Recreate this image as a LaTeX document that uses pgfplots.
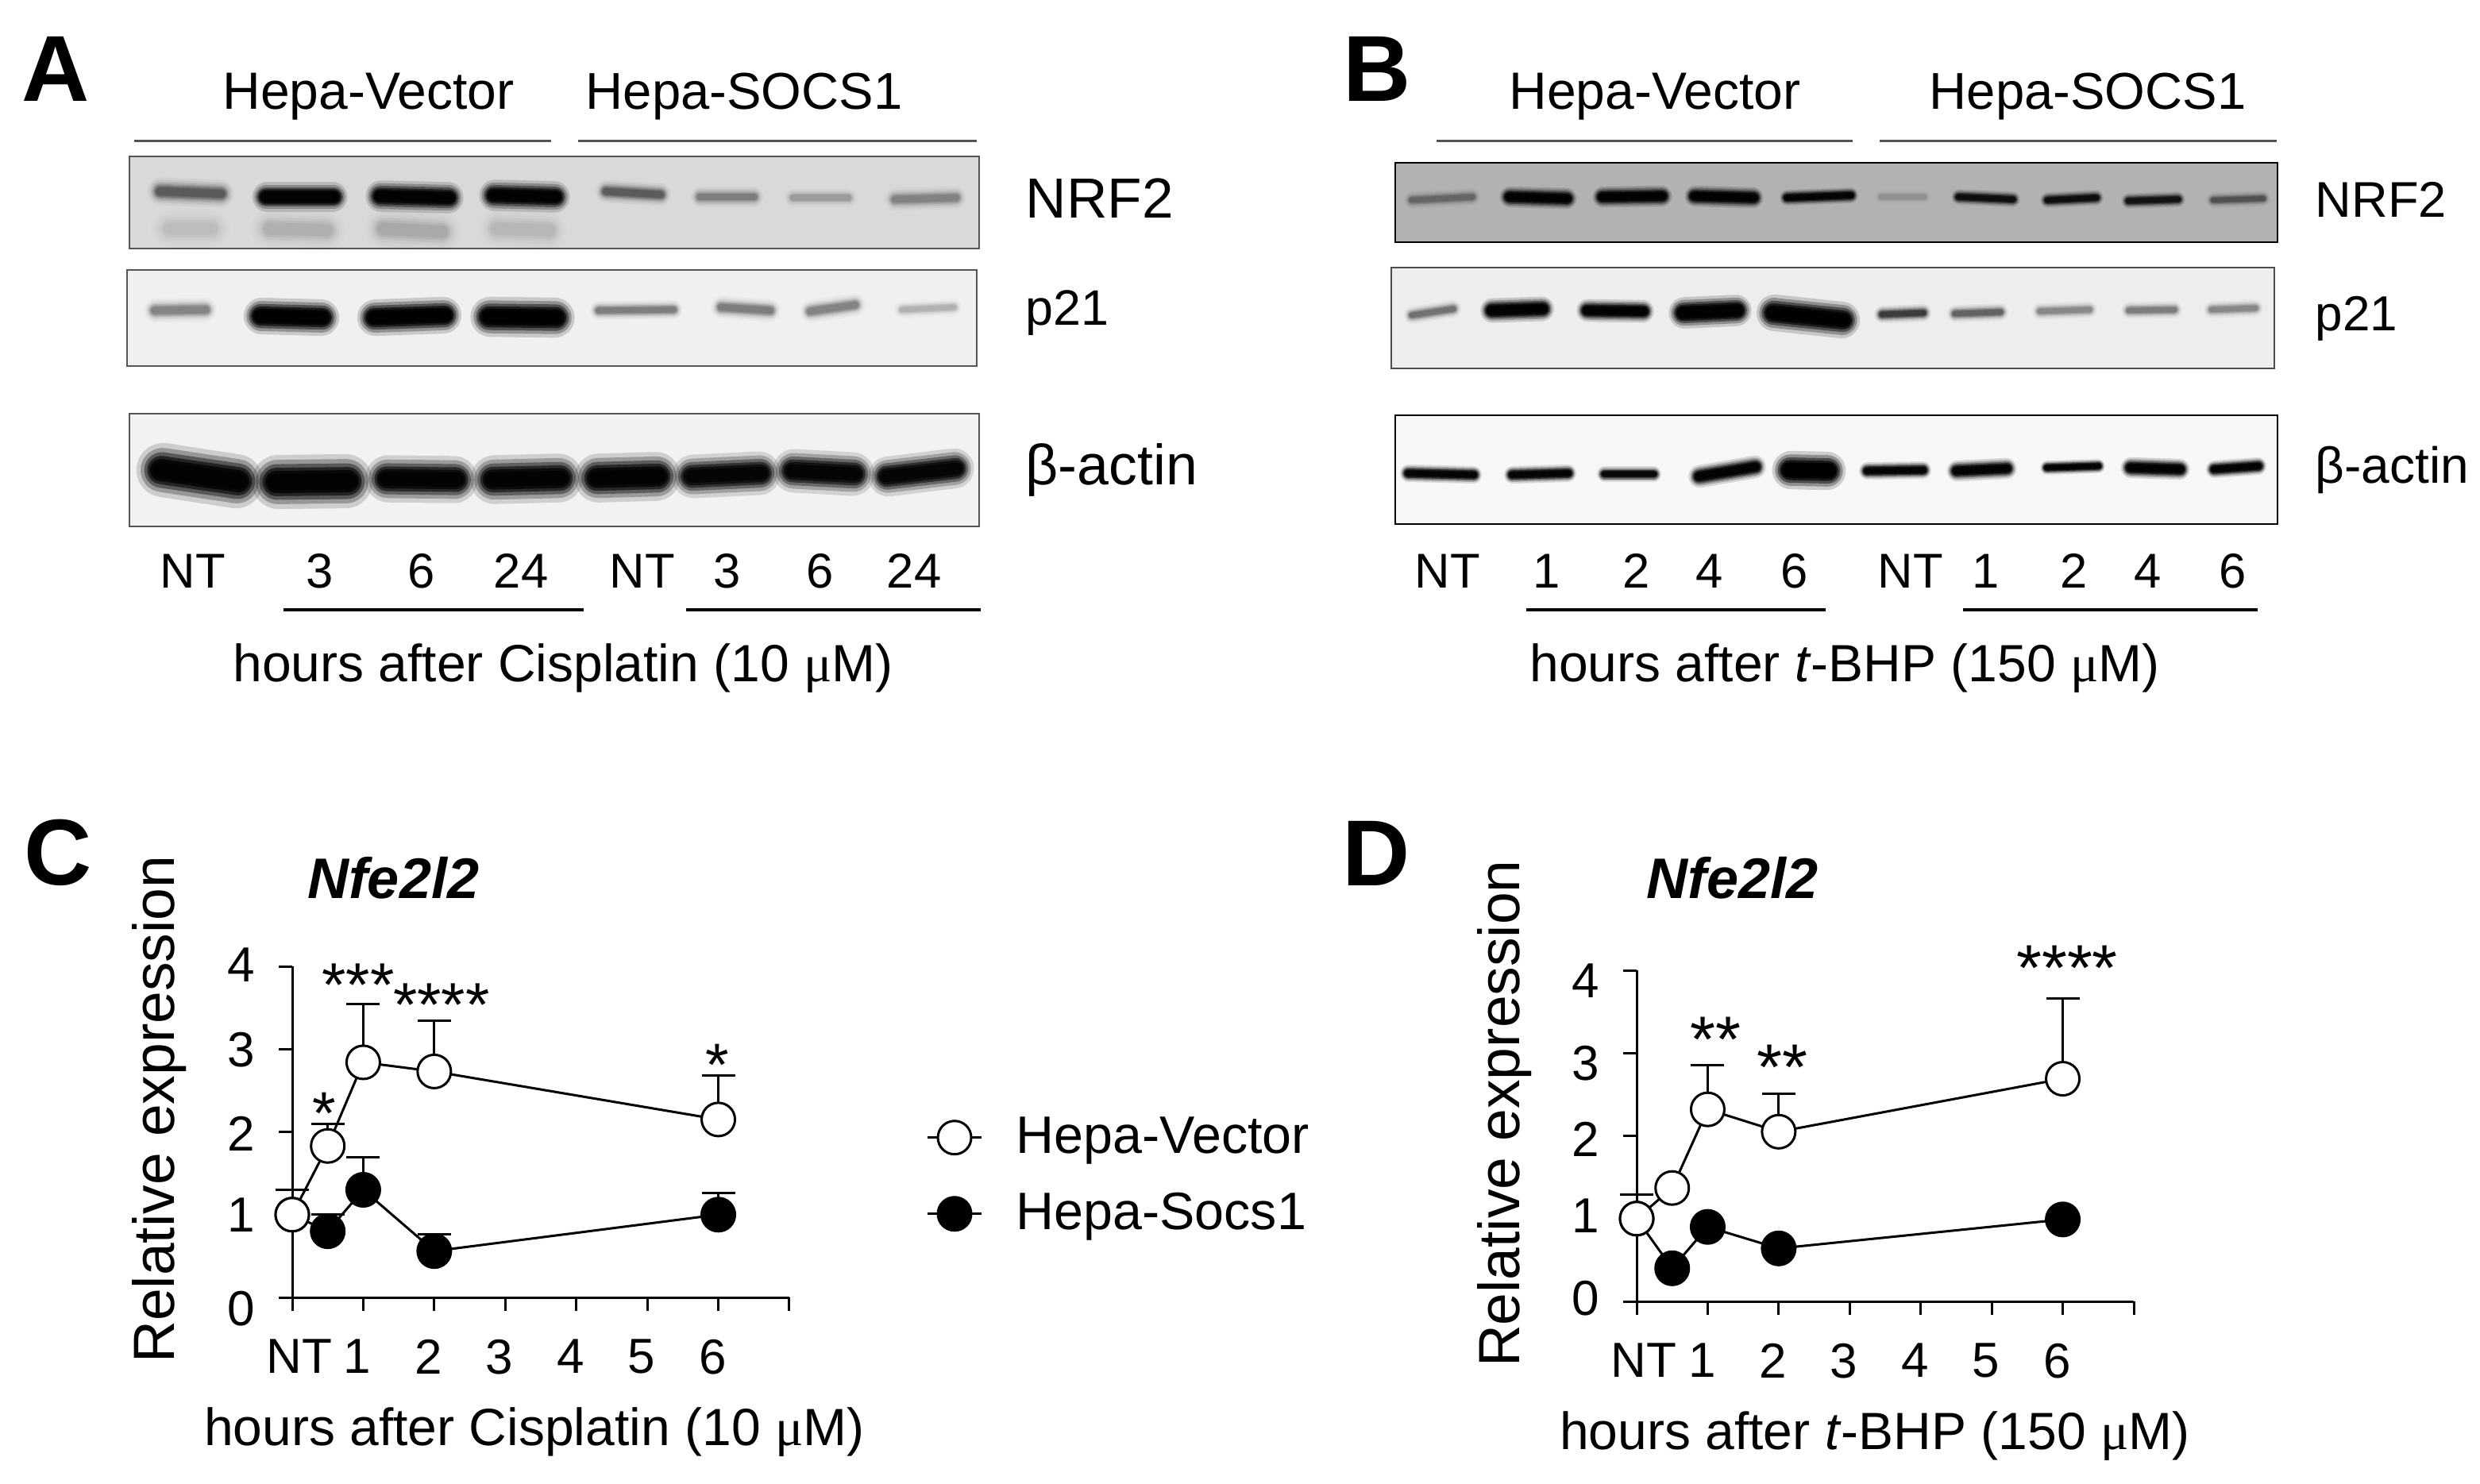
\documentclass[border=0pt]{standalone}
\usepackage{pgfplots}
\pgfplotsset{compat=1.18}
\usepackage{fontspec}
\setmainfont{Liberation Sans}
\newfontfamily\serifmu{Liberation Serif}
\newcommand{\mumark}{{\serifmu μ}}
\newcommand{\fs}[1]{\fontsize{#1}{#1}\selectfont}
% one layer of a band: factor x1 x2 yl yr th op opfactor
\newcommand{\bandlayer}[8]{%
  \pgfmathsetmacro{\bi}{#6*(#1*0.5+(2.2-#1)*0.42-0.2)}%
  \pgfmathsetmacro{\bxa}{#2+\bi}\pgfmathsetmacro{\bxb}{#3-\bi}%
  \pgfmathsetmacro{\bop}{#7*#8}%
  \edef\bandcmd{\noexpand\addplot[black,forget plot,line cap=round,opacity=\bop,line width={#6*0.25pt*#1}] coordinates {(\bxa,#4)(\bxb,#5)};}%
  \bandcmd
}
% a blot band: x1 x2 yleft yright thickness opacity (pixel units)
\newcommand{\band}[6]{%
  \bandlayer{2.2}{#1}{#2}{#3}{#4}{#5}{#6}{0.2}%
  \bandlayer{1.8}{#1}{#2}{#3}{#4}{#5}{#6}{0.35}%
  \bandlayer{1.45}{#1}{#2}{#3}{#4}{#5}{#6}{0.55}%
  \bandlayer{1.15}{#1}{#2}{#3}{#4}{#5}{#6}{0.8}%
  \bandlayer{0.9}{#1}{#2}{#3}{#4}{#5}{#6}{1}%
  \bandlayer{0.65}{#1}{#2}{#3}{#4}{#5}{#6}{1}%
}
\newcommand{\blot}[7]{% x1 y1 x2 y2 fill frame width
  \addplot[fill=#5,draw=#6,line width=#7,forget plot] coordinates {(#1,#2)(#3,#2)(#3,#4)(#1,#4)} --cycle;}
\newcommand{\rul}[5]{% x1 x2 y colour width
  \addplot[draw=#4,line width=#5,forget plot] coordinates {(#1,#3)(#2,#3)};}
\newcommand{\txt}[4]{\node[anchor=base,inner sep=0pt,font=\fs{#3}] at (axis cs:#1,#2) {#4};}
\newcommand{\ltxt}[4]{\node[anchor=base west,inner sep=0pt,font=\fs{#3}] at (axis cs:#1,#2) {#4};}
\newcommand{\letter}[3]{\node[anchor=base west,inner sep=0pt,font=\fs{29.5}\bfseries] at (axis cs:#1,#2) {#3};}
\newcommand{\yl}[2]{\raisebox{\dimexpr-5.45pt+#1pt\relax}[0pt][0pt]{#2}}
\definecolor{fa}{gray}{0.33}
\pgfplotsset{
  panel/.style={
    anchor=south west,width=156.5pt,height=104.25pt,scale only axis,
    xmin=0,xmax=7,ymin=0,ymax=4,axis lines=left,axis line style={-,line width=.75pt,black},
    clip=false,tick align=outside,major tick length=4.25pt,
    every tick/.style={black,line width=.75pt},
    xtick={0,1,2,3,4,5,6,7},ytick={0,1,2,3,4},
    xticklabels={\hspace*{8pt}NT,1,2,3,4,5,6,{}},
    tick label style={font=\fs{15.5}},
    x tick label style={xshift=-1.8pt,yshift=-5.5pt},
    y tick label style={xshift=-4pt},
    xlabel style={font=\fs{16.5},anchor=base,inner sep=0pt},
    ylabel style={font=\fs{18.3},anchor=base,inner sep=0pt,rotate=0},
    title style={font=\fs{18}\bfseries\itshape,anchor=base,inner sep=0pt,yshift=-6pt},
  },
  vec/.style={black,line width=.75pt,mark=*,mark size=5.25pt,
    mark options={fill=white,draw=black,line width=.75pt,solid}},
  soc/.style={black,line width=.75pt,mark=*,mark size=5.25pt,
    mark options={fill=black,draw=black,solid}},
  eb/.style={error bars/.cd,y dir=plus,y explicit,
    error bar style={black,line width=.75pt},
    error mark options={rotate=90,mark size=5.25pt,line width=.75pt,black}},
}
\begin{document}
\begin{tikzpicture}
\path[use as bounding box] (0,0) rectangle (780.75pt,467pt);
\begin{axis}[at={(0,0)},anchor=south west,width=780.75pt,height=467pt,scale only axis,
  xmin=0,xmax=3123,ymin=0,ymax=1868,y dir=reverse,hide axis,clip=false]
% ---------- panel A blots
\rul{169}{694}{177}{fa}{.75pt}\rul{728}{1230}{177}{fa}{.75pt}
\blot{163}{197}{1233}{313}{black!15}{fa}{.5pt}
\band{189}{291}{241}{244}{16}{.2}
\band{321}{434}{248}{248}{17}{.72}\band{464}{580}{247}{249}{18}{.72}\band{607}{714}{246}{248}{18}{.72}
\band{753}{842}{241}{245}{13}{.2}\band{872}{959}{248}{248}{12}{.13}\band{990}{1077}{249}{249}{11}{.08}\band{1117}{1214}{251}{249}{13}{.12}
\band{195}{285}{288}{288}{24}{.03}\band{321}{430}{288}{290}{24}{.05}\band{464}{575}{288}{292}{24}{.06}\band{607}{710}{288}{290}{24}{.04}
\blot{160}{340}{1230}{461}{black!6}{fa}{.5pt}
\band{184}{270}{391}{390}{14}{.14}
\band{311}{423}{398}{400}{21}{.8}\band{454}{577}{400}{397}{21}{.8}\band{597}{719}{399}{400}{23}{.8}
\band{745}{857}{391}{390}{11}{.15}\band{898}{980}{387}{391}{13}{.15}\band{1010}{1087}{392}{384}{13}{.14}\band{1128}{1209}{390}{387}{10}{.07}
\blot{163}{521}{1233}{663}{black!5}{fa}{.5pt}
\band{178}{325}{592}{606}{31}{.75}\band{323}{463}{607}{606}{31}{.75}\band{465}{596}{603}{604}{27}{.7}\band{598}{728}{604}{602}{28}{.7}
\band{729}{851}{602}{600}{28}{.72}\band{851}{978}{600}{596}{25}{.65}\band{978}{1096}{593}{597}{25}{.65}\band{1098}{1222}{600}{590}{23}{.65}
% ---------- panel B blots
\rul{1809}{2333}{177}{fa}{.75pt}\rul{2367}{2867}{177}{fa}{.75pt}
\blot{1757}{205}{2868}{305}{black!30}{black}{.6pt}
\band{1770}{1862}{252}{248}{10}{.13}
\band{1891}{1983}{248}{250}{12}{.75}\band{2008}{2103}{248}{247}{12}{.75}\band{2124}{2218}{247}{249}{12}{.75}\band{2243}{2338}{249}{246}{9}{.65}
\band{2362}{2430}{248}{248}{8}{.05}\band{2459}{2542}{248}{251}{9}{.5}\band{2571}{2647}{252}{249}{9}{.5}\band{2673}{2750}{253}{251}{9}{.45}\band{2780}{2857}{252}{250}{9}{.18}
\blot{1752}{337}{2864}{464}{black!7}{black!70}{.6pt}
\band{1770}{1838}{397}{389}{10}{.17}
\band{1867}{1954}{391}{389}{14}{.8}\band{1988}{2080}{391}{392}{13}{.75}\band{2105}{2202}{394}{391}{18}{.8}\band{2216}{2338}{394}{403}{21}{.8}
\band{2362}{2430}{396}{394}{10}{.3}\band{2454}{2527}{395}{393}{10}{.2}\band{2561}{2639}{392}{390}{10}{.13}\band{2673}{2746}{391}{390}{10}{.15}\band{2777}{2848}{390}{388}{10}{.13}
\blot{1757}{523}{2868}{660}{black!3}{black}{.6pt}
\band{1765}{1864}{596}{598}{10}{.65}\band{1896}{1983}{598}{596}{10}{.65}\band{2013}{2090}{597}{597}{9}{.6}
\band{2129}{2221}{600}{588}{13}{.7}\band{2236}{2320}{592}{593}{22}{.85}
\band{2343}{2430}{593}{592}{10}{.65}\band{2454}{2537}{593}{590}{12}{.7}\band{2571}{2649}{589}{587}{8}{.7}\band{2673}{2755}{589}{591}{12}{.75}\band{2780}{2852}{591}{587}{10}{.7}
% ---------- underlines
\rul{357}{735}{768}{black}{.9pt}\rul{864}{1235}{768}{black}{.9pt}
\rul{1922}{2299}{768}{black}{.9pt}\rul{2472}{2843}{768}{black}{.9pt}
% ---------- panel letters
\letter{27}{127}{A}\letter{1691}{127}{B}\letter{30}{1114}{C}\letter{1690}{1115}{D}
% ---------- panel A text
\txt{464}{137}{16.5}{Hepa-Vector}\txt{937}{137}{16.3}{Hepa-SOCS1}
\ltxt{1291}{274}{17.8}{NRF2}\ltxt{1291}{409}{15.7}{p21}\ltxt{1291}{610}{17.9}{β-actin}
\txt{243}{740}{15.4}{NT}\txt{403}{740}{15.4}{3}\txt{531}{740}{15.4}{6}\txt{656}{740}{15.4}{24}
\txt{809}{740}{15.4}{NT}\txt{916}{740}{15.4}{3}\txt{1033}{740}{15.4}{6}\txt{1151}{740}{15.4}{24}
\txt{709}{858}{16.5}{hours after Cisplatin (10 \mumark M)}
% ---------- panel B text
\txt{2084}{137}{16.5}{Hepa-Vector}\txt{2629}{137}{16.3}{Hepa-SOCS1}
\ltxt{2915}{273}{15.8}{NRF2}\ltxt{2915}{416}{15.5}{p21}\ltxt{2915}{608}{16}{β-actin}
\txt{1823}{740}{15.4}{NT}\txt{1948}{740}{15.4}{1}\txt{2061}{740}{15.4}{2}\txt{2153}{740}{15.4}{4}\txt{2260}{740}{15.4}{6}
\txt{2406}{740}{15.4}{NT}\txt{2501}{740}{15.4}{1}\txt{2612}{740}{15.4}{2}\txt{2705}{740}{15.4}{4}\txt{2812}{740}{15.4}{6}
\txt{2323}{858}{16.5}{hours after \textit{t}-BHP (150 \mumark M)}
% ---------- significance stars
\txt{408}{1428}{19}{*}\txt{451}{1267}{19.5}{***}\txt{556}{1292}{19.5}{****}\txt{903}{1367}{19}{*}
\txt{2160}{1337}{20.5}{**}\txt{2244}{1372}{20.5}{**}\txt{2603}{1247}{20.5}{****}
\end{axis}
% ---------- panel C
\begin{axis}[panel,at={(92pt,58.5pt)},
  yticklabels={\yl{-3.4}{0},\yl{0}{1},\yl{-0.6}{2},\yl{0}{3},\yl{0.6}{4}},
  xlabel={hours after Cisplatin (10 \mumark M)},
  xlabel style={at={(axis description cs:0.487,-0.446)}},
  ylabel={Relative expression},
  ylabel style={at={(axis description cs:-0.238,0.568)}},
  title={Nfe2l2},title style={at={(axis description cs:0.203,1.206)}},
  legend style={at={(1.255,0.585)},anchor=north west,draw=none,fill=none,font=\fs{16.6},
    row sep=7pt,/tikz/every odd column/.append style={column sep=8.5pt}},
  legend cell align=left,reverse legend]
\addplot[soc,eb] table[x=x,y=y,y error=e] {
x y e
0 1.00 0.00
0.5 0.80 0.20
1 1.30 0.39
2 0.56 0.20
6 1.00 0.26
};
\addplot[vec,eb] table[x=x,y=y,y error=e] {
x y e
0 1.00 0.30
0.5 1.83 0.27
1 2.84 0.70
2 2.73 0.61
6 2.15 0.53
};
\legend{Hepa-Socs1,Hepa-Vector}
\end{axis}
% ---------- panel D
\begin{axis}[panel,at={(515.25pt,57.25pt)},
  yticklabels={\yl{1.2}{0},\yl{0.9}{1},\yl{-1}{2},\yl{-3}{3},\yl{-3.2}{4}},
  xlabel={hours after \textit{t}-BHP (150 \mumark M)},
  xlabel style={at={(axis description cs:0.479,-0.448)}},
  ylabel={Relative expression},
  ylabel style={at={(axis description cs:-0.236,0.567)}},
  title={Nfe2l2},title style={at={(axis description cs:0.192,1.218)}}]
\addplot[soc] table[x=x,y=y] {
x y
0 1.00
0.5 0.40
1 0.90
2 0.64
6 0.99
};
\addplot[vec,eb] table[x=x,y=y,y error=e] {
x y e
0 1.00 0.29
0.5 1.37 0.00
1 2.32 0.53
2 2.05 0.46
6 2.69 0.97
};
\end{axis}
\end{tikzpicture}
\end{document}
